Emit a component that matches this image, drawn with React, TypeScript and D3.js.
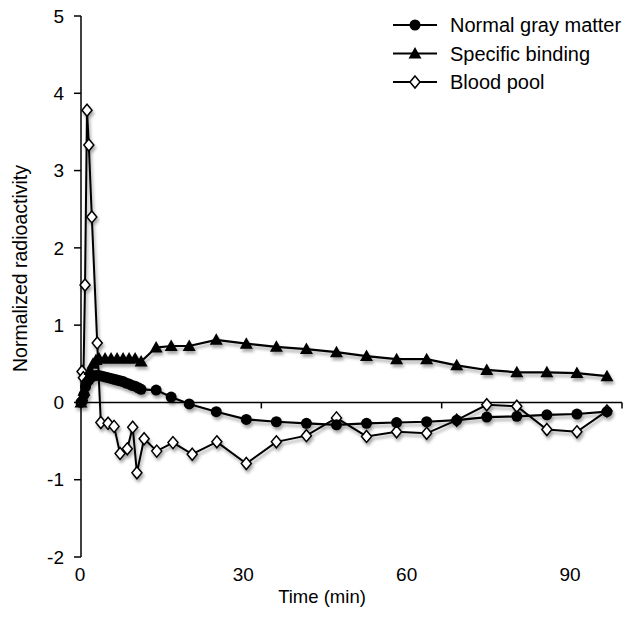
import React from "react";
import * as d3 from "d3";

const W = 637;
const H = 622;

const xTicks = [0, 30, 60, 90];
const yTicks = [-2, -1, 0, 1, 2, 3, 4, 5];

const gmTime = [0, 0.25, 0.5, 0.75, 1, 1.5, 2, 2.5, 3, 3.5, 4, 4.5, 5, 5.5, 6, 6.5, 7, 7.5, 8, 8.5, 9, 9.5, 10, 12.5, 15, 18, 22.5, 27.5, 32.5, 37.5, 42.5, 47.5, 52.5, 57.5, 62.5, 67.5, 72.5, 77.5, 82.5, 87.5];
const gmValue = [0, 0.02, 0.1, 0.2, 0.26, 0.31, 0.34, 0.35, 0.35, 0.34, 0.33, 0.32, 0.31, 0.3, 0.29, 0.28, 0.27, 0.25, 0.24, 0.22, 0.21, 0.19, 0.17, 0.16, 0.07, -0.02, -0.12, -0.22, -0.25, -0.27, -0.29, -0.27, -0.26, -0.25, -0.23, -0.19, -0.18, -0.16, -0.15, -0.12];

const sbTime = [0, 0.5, 1, 1.5, 2, 2.5, 3, 4, 5, 6, 7, 8, 9, 10, 12.5, 15, 18, 22.5, 27.5, 32.5, 37.5, 42.5, 47.5, 52.5, 57.5, 62.5, 67.5, 72.5, 77.5, 82.5, 87.5];
const sbValue = [0, 0.15, 0.3, 0.42, 0.5, 0.55, 0.57, 0.57, 0.57, 0.57, 0.57, 0.57, 0.57, 0.53, 0.71, 0.73, 0.73, 0.81, 0.76, 0.72, 0.69, 0.65, 0.6, 0.56, 0.56, 0.48, 0.42, 0.39, 0.39, 0.38, 0.34];

const bpTime = [0.17, 0.4, 0.67, 1.0, 1.3, 1.8, 2.7, 3.3, 4.5, 5.5, 6.5, 7.7, 8.6, 9.3, 10.5, 12.6, 15.3, 18.5, 22.6, 27.5, 32.5, 37.5, 42.5, 47.5, 52.5, 57.5, 62.5, 67.5, 72.5, 77.5, 82.5, 87.5];
const bpValue = [0.4, 0.32, 1.52, 3.78, 3.33, 2.4, 0.77, -0.26, -0.27, -0.31, -0.66, -0.6, -0.32, -0.91, -0.47, -0.63, -0.52, -0.67, -0.51, -0.79, -0.51, -0.43, -0.2, -0.44, -0.38, -0.4, -0.23, -0.03, -0.05, -0.35, -0.38, -0.11];

const legendLabels = ["Normal gray matter", "Specific binding", "Blood pool"];

const FONT = "'Liberation Sans', Arial, Helvetica, sans-serif";

export default function App() {
  const x = d3.scaleLinear().domain([0, 90]).range([81, 622]);
  const y = d3.scaleLinear().domain([-2, 5]).range([557, 16]);
  // tick labels in the reference sit on a slightly narrower spacing
  const xLabel = d3.scaleLinear().domain([0, 90]).range([80, 570]);

  const line = d3
    .line<[number, number]>()
    .x((d) => x(d[0]))
    .y((d) => y(d[1]));

  const gm = gmTime.map((t, i) => [t, gmValue[i]] as [number, number]);
  const sb = sbTime.map((t, i) => [t, sbValue[i]] as [number, number]);
  const bp = bpTime.map((t, i) => [t, bpValue[i]] as [number, number]);

  const circle = (cx: number, cy: number, k: string) => (
    <circle key={k} cx={cx} cy={cy} r={5.5} fill="#000" />
  );
  const tri = (cx: number, cy: number, k: string) => (
    <path key={k} d={`M${cx},${cy - 6.5}L${cx + 6.5},${cy + 5}L${cx - 6.5},${cy + 5}Z`} fill="#000" />
  );
  const dia = (cx: number, cy: number, k: string) => (
    <path
      key={k}
      d={`M${cx},${cy - 6}L${cx + 5},${cy}L${cx},${cy + 6}L${cx - 5},${cy}Z`}
      fill="#fff"
      stroke="#000"
      strokeWidth={1.5}
    />
  );

  const zeroY = y(0);

  return (
    <svg
      width={W}
      height={H}
      style={{ position: "absolute", left: 0, top: 0, background: "#fff" }}
      fontFamily={FONT}
    >
      <defs>
        <filter id="sh" x="-20%" y="-20%" width="140%" height="140%">
          <feDropShadow dx={1.5} dy={3} stdDeviation={1.8} floodColor="#000" floodOpacity={0.35} />
        </filter>
      </defs>
      <rect width={W} height={H} fill="#fff" />

      {/* Y axis */}
      <line x1={x(0)} x2={x(0)} y1={y(5)} y2={y(-2)} stroke="#000" strokeWidth={1.5} />
      {yTicks.map((t) => (
        <g key={t}>
          <line x1={x(0) - 7} x2={x(0)} y1={y(t)} y2={y(t)} stroke="#000" strokeWidth={1.5} />
          <text x={64} y={y(t)} dy="0.35em" textAnchor="end" fontSize={19} fill="#000">
            {t}
          </text>
        </g>
      ))}

      {/* X axis at zero */}
      <line x1={x(0)} x2={x(90)} y1={zeroY} y2={zeroY} stroke="#000" strokeWidth={1.5} />
      {xTicks.map((t) => (
        <g key={t}>
          <line x1={x(t)} x2={x(t)} y1={zeroY} y2={zeroY + 6} stroke="#000" strokeWidth={1.5} />
          <text x={xLabel(t)} y={574} dy="0.35em" textAnchor="middle" fontSize={19} fill="#000">
            {t}
          </text>
        </g>
      ))}

      <text x={322} y={597} dy="0.35em" textAnchor="middle" fontSize={18.5} fill="#000">
        Time (min)
      </text>
      <text
        transform={`translate(20,${(165 + 372) / 2}) rotate(-90)`}
        dy="0.35em"
        textAnchor="middle"
        fontSize={19.5}
        fill="#000"
      >
        Normalized radioactivity
      </text>

      {/* series */}
      <g filter="url(#sh)">
        <path d={line(bp) || ""} fill="none" stroke="#000" strokeWidth={2} />
        {bp.map((d, i) => dia(x(d[0]), y(d[1]), "bp" + i))}
        <path d={line(sb) || ""} fill="none" stroke="#000" strokeWidth={2.2} />
        {sb.map((d, i) => tri(x(d[0]), y(d[1]), "sb" + i))}
        <path d={line(gm) || ""} fill="none" stroke="#000" strokeWidth={2.2} />
        {gm.map((d, i) => circle(x(d[0]), y(d[1]), "gm" + i))}
      </g>

      {/* legend */}
      <g>
        {legendLabels.map((lab, i) => {
          const ly = 25 + i * 28.5;
          return (
            <g key={lab}>
              <line x1={393} x2={437} y1={ly} y2={ly} stroke="#000" strokeWidth={2} />
              {i === 0 && circle(415, ly, "lg0")}
              {i === 1 && tri(415, ly, "lg1")}
              {i === 2 && dia(415, ly, "lg2")}
              <text x={450} y={ly} dy="0.35em" fontSize={20} fill="#000">
                {lab}
              </text>
            </g>
          );
        })}
      </g>
    </svg>
  );
}
